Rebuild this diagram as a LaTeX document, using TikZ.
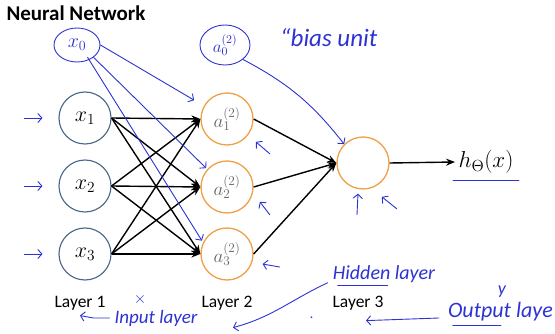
\RequirePackage{fix-cm}
\documentclass[tikz,border=0pt]{standalone}
\usepackage{fontspec}
\setmainfont{Carlito}
\usetikzlibrary{arrows.meta,shapes.geometric,positioning}
\definecolor{inpcol}{RGB}{70,100,135}
\definecolor{hidcol}{RGB}{240,160,70}
\definecolor{pencol}{RGB}{45,50,210}
\begin{document}
\begin{tikzpicture}[x=1pt, y=-1pt,
  inp/.style={circle, draw=inpcol, line width=1.1pt, minimum size=52pt, inner sep=0pt,
              font=\fontsize{22}{22}\selectfont},
  hid/.style={circle, draw=hidcol, line width=1.3pt, minimum size=52pt, inner sep=0pt,
              text=black!60, font=\fontsize{19}{19}\selectfont},
  wire/.style={-{Stealth[length=9pt,width=7pt]}, line width=1.4pt},
  pen/.style={pencol, line width=0.9pt, line cap=round,
              -{Straight Barb[length=4pt,width=9pt,line cap=round]}},
  ink/.style={pencol, line width=0.9pt, line cap=round},
  ring/.style={ellipse, draw=pencol, line width=0.9pt, inner sep=0pt, text=pencol},
  note/.style={text=pencol, font=\itshape\fontsize{#1}{#1}\selectfont, inner sep=1pt},
  layer/.style={font=\fontsize{17.5}{17.5}\selectfont}]
  \useasboundingbox (0,0) rectangle (555,334);
  \node[anchor=west, font=\bfseries\fontsize{21}{21}\selectfont] (title) at (3,13) {Neural Network};

  \node[inp] (x1) at (85,118) {$x_1$};
  \node[inp] (x2) at (85,186) {$x_2$};
  \node[inp] (x3) at (85,254) {$x_3$};
  \node[hid] (a1) at (227,119) {$a_1^{(2)}$};
  \node[hid] (a2) at (227,187) {$a_2^{(2)}$};
  \node[hid] (a3) at (227,254) {$a_3^{(2)}$};
  \node[hid] (out) at (363,163) {};
  \node[font=\fontsize{23}{23}\selectfont] (h) at (486,162) {$h_\Theta(x)$};

  \foreach \i in {1,2,3}
    \foreach \j in {1,2,3}
      \draw[wire] (x\i.east) -- (a\j.west);
  \foreach \j in {1,2,3}
    \draw[wire] (a\j.east) -- (out.west);
  \draw[wire] (out.east) -- (h.west);

  \node[layer] (l1) at (80,303) {Layer 1};
  \node[layer] (l2) at (227,303) {Layer 2};
  \node[layer] (l3) at (358,303) {Layer 3};

  % pen notes
  \node[ring, minimum width=46pt, minimum height=34pt, font=\fontsize{20}{20}\selectfont] (x0) at (77,45) {$x_0$};
  \node[ring, minimum width=50pt, minimum height=40pt, font=\fontsize{17}{17}\selectfont] (a0) at (225,45) {$a_0^{(2)}$};
  \node[note=25, anchor=west] (bias) at (279,38) {``bias unit};
  \draw[pen] (x0.east) -- ([xshift=-14pt]a1.north west);
  \draw[pen] (x0.south east) -- ([xshift=-2pt]a2.north west);
  \draw[pen] ([xshift=-6pt]x0.south east) -- ([xshift=-2pt]a3.150);
  \draw[pen] (a0.south east) to[bend left=12] (out.north west);

  \foreach \n in {x1,x2,x3}
    \draw[pen] ([xshift=-34pt]\n.west) -- ([xshift=-16pt]\n.west);
  \draw[pen] ([shift={(24pt,-16pt)}]a1.south east) -- ([shift={(10pt,-4pt)}]a1.south east);
  \draw[pen] ([shift={(24pt,-9pt)}]a2.south east) -- ([shift={(14pt,4pt)}]a2.south east);
  \draw[pen] ([shift={(26pt,-13pt)}]a3.east) -- ([shift={(9pt,-10pt)}]a3.east);
  \draw[pen] ([shift={(-6pt,-25pt)}]out.south) -- ([shift={(-5pt,-4pt)}]out.south);
  \draw[pen] ([shift={(15pt,-27pt)}]out.south east) -- ([shift={(0pt,-15pt)}]out.south east);
  \draw[ink] ([shift={(-2pt,-3pt)}]h.south west) -- ([shift={(2pt,-3pt)}]h.south east);

  \node[note=20] (hidden) at (384,274) {Hidden layer};
  \draw[ink] ([shift={(6pt,-2pt)}]hidden.south west) -- ++(50pt,0);
  \draw[pen] ([shift={(-4pt,1pt)}]hidden.south west) to[out=205,in=15] ([shift={(6pt,-14pt)}]l2.south);
  \node[note=19] (input) at (156,318) {Input layer};
  \draw[pen] ([xshift=-4pt]input.west) -- ++(-16pt,0) -- ([shift={(0pt,-2pt)}]l1.south);
  \node[note=22, anchor=east] (output) at (554,312) {Output laye};
  \draw[ink] ([shift={(6pt,-3pt)}]output.south west) -- ++(48pt,0);
  \node[note=18] (y) at (502,292) {y};
  \draw[pen] ([shift={(-8pt,-6pt)}]output.west) -- ([shift={(8pt,-7pt)}]l3.south);
  \node[note=16] (cross) at (140,300) {$\times$};
  \node[note=14] (dot) at (312,318) {.};
\end{tikzpicture}
\end{document}
